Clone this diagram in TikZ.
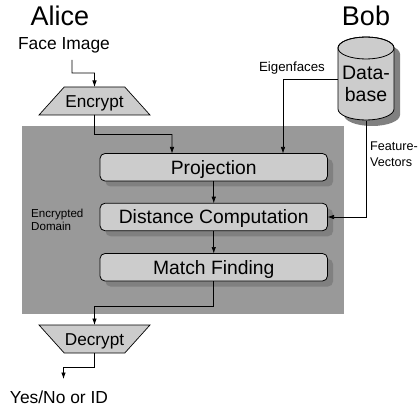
\documentclass[tikz,border=0pt]{standalone}
\usepackage{fontspec}
\setmainfont{Liberation Sans}
\usetikzlibrary{shapes.geometric,shadows,arrows.meta}
\definecolor{boxgray}{HTML}{CCCCCC}
\definecolor{domaingray}{HTML}{999999}
\definecolor{shadowgray}{HTML}{808080}
\tikzset{
	flow/.style={line width=0.7pt,-{Latex[length=6.5pt,width=4.5pt]}},
	stage/.style={draw,fill=boxgray,line width=0.8pt,rounded corners=5pt,minimum width=227.5pt,minimum height=27.5pt,inner sep=0pt,outer sep=0pt,text height=13.8pt,text depth=0pt,font=\fontsize{19.3}{19}\selectfont,drop shadow={shadow xshift=5.5pt,shadow yshift=-5.5pt,opacity=1,fill=shadowgray}},
	crypt/.style={draw,fill=boxgray,line width=0.7pt,trapezium,trapezium stretches body,trapezium angle=48,minimum width=111pt,inner sep=0pt,outer sep=0pt,text height=20.25pt,text depth=7.75pt,font=\fontsize{17.2}{17}\selectfont},
	medium/.style={font=\fontsize{17.4}{17}\selectfont,inner sep=0pt,text height=12.5pt,text depth=0pt},
	big/.style={font=\fontsize{27}{27}\selectfont,inner sep=0pt,text height=19.3pt,text depth=0pt}
}
\begin{document}
\begin{tikzpicture}[x=1pt,y=-1pt]
\useasboundingbox (0,0) rectangle (418,409);

\fill[domaingray] (22,126) rectangle (344,314);
\node[font=\fontsize{11.6}{13}\selectfont,inner sep=0pt,align=left,anchor=west] (domain) at (31,219.5) {Encrypted\\Domain};

\node[big] (alice) at (60,16) {Alice};
\node[big] (bob) at (366,16) {Bob};
\node[medium] (face) at (64,43) {Face Image};
\node[medium] (result) at (59,397) {Yes/No or ID};

\node[crypt] (encrypt) at (94.5,101) {Encrypt};
\node[crypt,shape border rotate=180] (decrypt) at (94.5,339) {Decrypt};

\node[stage] (projection) at (213.75,167.25) {Projection};
\node[stage] (distance) at (213.75,217) {Distance Computation};
\node[stage] (match) at (213.75,267.25) {Match Finding};

% database
\fill[shadowgray] (344,54) arc[start angle=180,end angle=0,x radius=28pt,y radius=11pt]--(400,115) arc[start angle=0,end angle=-180,x radius=28pt,y radius=11pt]--cycle;
\draw[fill=boxgray,line width=0.8pt] (338,48)--(338,109) arc[start angle=180,end angle=360,x radius=28pt,y radius=11pt]--(394,48) arc[start angle=0,end angle=180,x radius=28pt,y radius=11pt]--cycle;
\draw[line width=0.8pt] (366,48) ellipse[x radius=28pt,y radius=11pt];
\node[inner sep=0pt,align=center,font=\fontsize{19.5}{22}\selectfont] (database) at (366,84) {Data-\\base};

\node[font=\fontsize{13.3}{13}\selectfont,inner sep=0pt] (eigen) at (292,68) {Eigenfaces};
\node[font=\fontsize{12.6}{15.5}\selectfont,inner sep=0pt,align=left,anchor=west] (feature) at (370,154) {Feature-\\Vectors};

\coordinate (faceout) at (72,60);
\coordinate (resultin) at (63.5,379);
\coordinate (eigenout) at (338,79);
\coordinate (featureout) at (366,121);

\draw[flow] (faceout)--(72,73)--(94.5,73)--(encrypt.north);
\draw[flow] (encrypt.south)--(94.5,134.5)--(172,134.5)--(172,153.5);
\draw[flow] (projection.south)--(distance.north);
\draw[flow] (distance.south)--(match.north);
\draw[flow] (match.south)--(213.75,306)--(94.5,306)--(94.5,325);
\draw[flow] (94.5,353)--(94.5,367)--(63.5,367)--(resultin);
\draw[flow] (eigenout)--(283,79)--(283,153.5);
\draw[flow] (featureout)--(366,217)--(distance.east);
\end{tikzpicture}
\end{document}
